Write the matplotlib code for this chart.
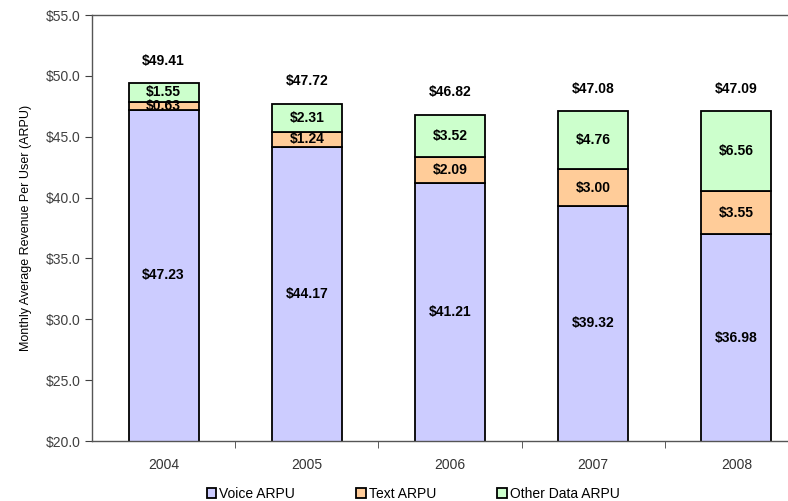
import matplotlib
matplotlib.use("Agg")
import matplotlib.pyplot as plt
import numpy as np
from matplotlib.patches import Patch

years = ["2004", "2005", "2006", "2007", "2008"]
voice = [47.23, 44.17, 41.21, 39.32, 36.98]
text = [0.63, 1.24, 2.09, 3.00, 3.55]
other = [1.55, 2.31, 3.52, 4.76, 6.56]
totals = [49.41, 47.72, 46.82, 47.08, 47.09]

c_voice = "#CCCCFF"
c_text = "#FFCC99"
c_other = "#CCFFCC"

plt.rcParams["font.family"] = ["Liberation Sans", "DejaVu Sans"]

fig = plt.figure(figsize=(7.88, 5.01), dpi=100)
ax = fig.add_axes([92 / 788, 60 / 501, 716 / 788, 426 / 501])

x = np.arange(len(years))
w = 0.49
ymin, ymax = 20.0, 55.0
v = np.array(voice)
t = np.array(text)
o = np.array(other)

kw = dict(width=w, edgecolor="black", linewidth=1.3, zorder=2)
ax.bar(x, v, color=c_voice, **kw)
ax.bar(x, t, bottom=v, color=c_text, **kw)
ax.bar(x, o, bottom=v + t, color=c_other, **kw)

lab_kw = dict(ha="center", va="center", fontsize=10, fontweight="bold", color="black", zorder=5)
for i in range(len(years)):
    ax.text(x[i], (ymin + v[i]) / 2, f"${voice[i]:.2f}", **lab_kw)
    ax.text(x[i], v[i] + t[i] / 2, f"${text[i]:.2f}", **lab_kw)
    ax.text(x[i], v[i] + t[i] + o[i] / 2, f"${other[i]:.2f}", **lab_kw)
    ax.annotate(f"${totals[i]:.2f}", (x[i], totals[i]), xytext=(0, 16),
                textcoords="offset points", ha="center", va="center",
                fontsize=10, fontweight="bold", color="black")

ax.set_xlim(-0.5, len(years) - 0.5)
ax.set_ylim(ymin, ymax)
ax.set_yticks(np.arange(20, 55.1, 5))
ax.set_yticklabels([f"${val:.1f}" for val in np.arange(20, 55.1, 5)])
ax.set_xticks(x)
ax.set_xticklabels(years)
ax.set_xticks(np.arange(0.5, len(years) - 0.5, 1), minor=True)
ax.tick_params(axis="x", which="major", length=0, pad=12, labelsize=10, labelcolor="#333333")
ax.tick_params(axis="x", which="minor", length=5, direction="out", color="#404040")
ax.tick_params(axis="y", length=5, direction="out", color="#404040", labelsize=10,
               labelcolor="#404040", pad=3)

for side in ["left", "top", "bottom"]:
    ax.spines[side].set_color("#555555")
    ax.spines[side].set_linewidth(1.0)
ax.spines["right"].set_visible(False)

ax.set_ylabel("Monthly Average Revenue Per User (ARPU)", fontsize=9, color="black", labelpad=10)

handles = [Patch(facecolor=c_voice, edgecolor="black", linewidth=1.3, label="Voice ARPU"),
           Patch(facecolor=c_text, edgecolor="black", linewidth=1.3, label="Text ARPU"),
           Patch(facecolor=c_other, edgecolor="black", linewidth=1.3, label="Other Data ARPU")]
fig.legend(handles=handles, loc="center", bbox_to_anchor=(413 / 788, 7 / 501), ncol=3,
           frameon=False, fontsize=10, handlelength=0.7, handleheight=0.7,
           handletextpad=0.2, columnspacing=4.4, borderaxespad=0)

fig.savefig("out.png", dpi=100)
